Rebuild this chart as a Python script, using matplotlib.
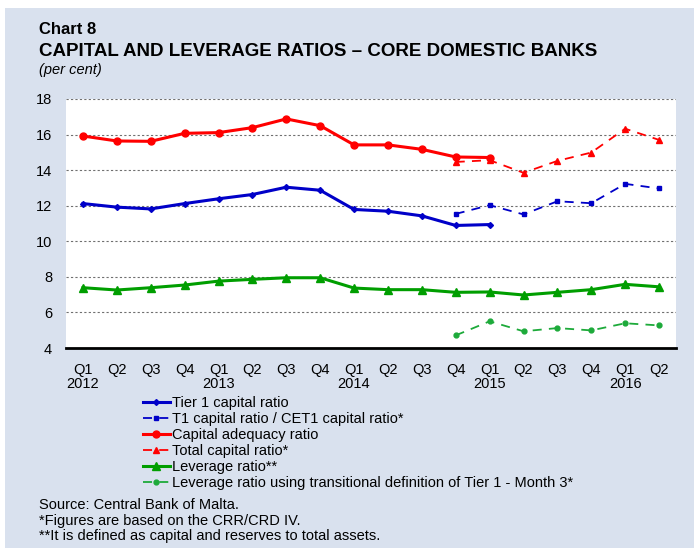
import numpy as np
import matplotlib
matplotlib.use("Agg")
import matplotlib.pyplot as plt
from matplotlib.patches import Rectangle

plt.rcParams['font.family'] = ['Liberation Sans', 'DejaVu Sans']

quarters = ["Q1", "Q2", "Q3", "Q4", "Q1", "Q2", "Q3", "Q4", "Q1", "Q2", "Q3", "Q4",
            "Q1", "Q2", "Q3", "Q4", "Q1", "Q2"]
years = ["2012", "", "", "", "2013", "", "", "", "2014", "", "", "",
         "2015", "", "", "", "2016", ""]

nan = np.nan
tier1 = [12.12, 11.92, 11.82, 12.12, 12.39, 12.63, 13.04, 12.87, 11.79, 11.69, 11.43, 10.89,
         10.94, nan, nan, nan, nan, nan]
t1_cet1 = [nan, nan, nan, nan, nan, nan, nan, nan, nan, nan, nan, 11.54,
           12.03, 11.51, 12.25, 12.14, 13.23, 12.97]
car = [15.92, 15.64, 15.62, 16.07, 16.11, 16.39, 16.88, 16.50, 15.42, 15.42, 15.17, 14.74,
       14.71, nan, nan, nan, nan, nan]
total_capital = [nan, nan, nan, nan, nan, nan, nan, nan, nan, nan, nan, 14.46,
                 14.56, 13.85, 14.52, 14.99, 16.33, 15.70]
leverage = [7.39, 7.26, 7.39, 7.54, 7.76, 7.86, 7.95, 7.95, 7.37, 7.28, 7.28, 7.13,
            7.15, 6.98, 7.13, 7.28, 7.58, 7.44]
leverage_trans = [nan, nan, nan, nan, nan, nan, nan, nan, nan, nan, nan, 4.71,
                  5.50, 4.94, 5.12, 4.99, 5.39, 5.27]

labels = ["Tier 1 capital ratio",
          "T1 capital ratio / CET1 capital ratio*",
          "Capital adequacy ratio",
          "Total capital ratio*",
          "Leverage ratio**",
          "Leverage ratio using transitional definition of Tier 1 - Month 3*"]

BLUE = "#0000C8"
RED = "#FF0000"
GREEN = "#009E00"
GREEN_L = "#1DAA3A"
PANEL = "#D9E1EE"
FS = 10.5

fig = plt.figure(figsize=(6.94, 5.48), dpi=100)
fig.patch.set_facecolor("white")
fig.patches.append(Rectangle((5 / 694, 0), 1, 1 - 8 / 548, transform=fig.transFigure,
                             facecolor=PANEL, edgecolor="none", zorder=-10))

ax = fig.add_axes([66 / 694, 1 - 348 / 548, 610 / 694, 249 / 548])
ax.set_facecolor("white")
x = np.arange(len(quarters))

h1, = ax.plot(x, tier1, color=BLUE, lw=2.2, marker="D", ms=3, label=labels[0], zorder=5)
h2, = ax.plot(x, t1_cet1, color=BLUE, lw=1.3, ls=(0, (5, 4)), marker="s", ms=3.5,
              label=labels[1], zorder=4)
h3, = ax.plot(x, car, color=RED, lw=2.2, marker="o", ms=5, label=labels[2], zorder=5)
h4, = ax.plot(x, total_capital, color=RED, lw=1.3, ls=(0, (5, 4)), marker="^", ms=4,
              label=labels[3], zorder=4)
h5, = ax.plot(x, leverage, color=GREEN, lw=2.2, marker="^", ms=5.5, label=labels[4], zorder=5)
h6, = ax.plot(x, leverage_trans, color=GREEN_L, lw=1.3, ls=(0, (5, 4)), marker="o", ms=3.5,
              label=labels[5], zorder=4)

ax.set_xlim(-0.5, len(quarters) - 0.5)
ax.set_ylim(4, 18)
ax.set_yticks(np.arange(4, 19, 2))
for yv in np.arange(6, 19, 2):
    ax.axhline(yv, color="#707070", lw=0.8, ls=(0, (2, 2)), zorder=1)

ax.set_xticks(x)
ax.set_xticklabels([q + ("\n" + y if y else "\n") for q, y in zip(quarters, years)],
                   fontsize=FS, linespacing=1.0)
ax.tick_params(axis="x", length=0, pad=10.5)
ax.tick_params(axis="y", length=0, pad=10, labelsize=FS)

for side in ["top", "right", "left"]:
    ax.spines[side].set_visible(False)
ax.spines["bottom"].set_linewidth(2)
ax.spines["bottom"].set_color("black")

fig.legend(handles=[h1, h2, h3, h4, h5, h6], loc="upper left",
           bbox_to_anchor=(143 / 694, 1 - 396.5 / 548), frameon=False, fontsize=FS,
           handlelength=1.85, handletextpad=0.12, labelspacing=0.135, borderpad=0,
           borderaxespad=0)

title_font = ["Liberation Sans Narrow", "Liberation Sans"]
fig.text(39 / 694, 1 - 29 / 548, "Chart 8", fontsize=12, fontweight="bold",
         family=title_font, va="center")
fig.text(39 / 694, 1 - 51 / 548, "CAPITAL AND LEVERAGE RATIOS \u2013 CORE DOMESTIC BANKS",
         fontsize=13.5, fontweight="bold", family=title_font, va="center")
fig.text(39 / 694, 1 - 70 / 548, "(per cent)", fontsize=FS, style="italic",
         family=title_font, va="center")

notes = ["Source: Central Bank of Malta.",
         "*Figures are based on the CRR/CRD IV.",
         "**It is defined as capital and reserves to total assets."]
for i, t in enumerate(notes):
    fig.text(39 / 694, 1 - (505 + 15.5 * i) / 548, t, fontsize=FS, va="center")

fig.savefig("out.png", dpi=100, facecolor=fig.get_facecolor())
